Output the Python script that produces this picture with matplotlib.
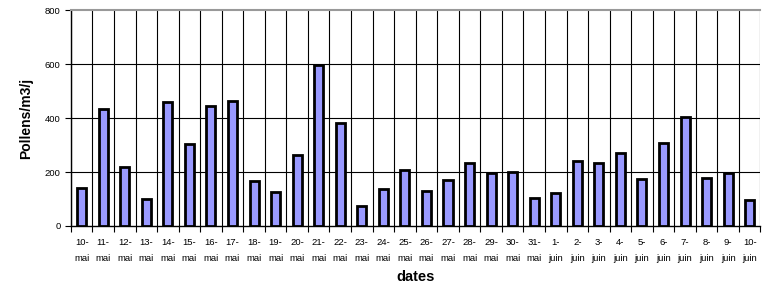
import matplotlib
matplotlib.use('Agg')
import matplotlib.pyplot as plt
import numpy as np

plt.rcParams['font.family'] = ['Liberation Sans', 'DejaVu Sans']

dates = ['10-\nmai', '11-\nmai', '12-\nmai', '13-\nmai', '14-\nmai', '15-\nmai', '16-\nmai',
         '17-\nmai', '18-\nmai', '19-\nmai', '20-\nmai', '21-\nmai', '22-\nmai', '23-\nmai',
         '24-\nmai', '25-\nmai', '26-\nmai', '27-\nmai', '28-\nmai', '29-\nmai', '30-\nmai',
         '31-\nmai', '1-\njuin', '2-\njuin', '3-\njuin', '4-\njuin', '5-\njuin', '6-\njuin',
         '7-\njuin', '8-\njuin', '9-\njuin', '10-\njuin']
pollens = [140, 435, 220, 100, 460, 305, 445, 465, 165, 125, 262, 598, 380, 75, 137, 207,
           128, 170, 235, 198, 200, 103, 122, 240, 232, 272, 173, 308, 405, 177, 198, 96]

fig = plt.figure(figsize=(7.62, 2.89), dpi=100)
ax = fig.add_axes([0.093, 0.218, 0.905, 0.747])

x = np.arange(len(dates))
ax.bar(x, pollens, width=0.42, color='#9999FF', edgecolor='black', linewidth=2, zorder=3)

ax.set_xlim(-0.5, len(dates) - 0.5)
ax.set_ylim(0, 800)
ax.set_yticks([0, 200, 400, 600, 800])

# grid lines between categories
for b in np.arange(-0.5, len(dates) + 0.5, 1):
    ax.axvline(b, color='black', linewidth=0.8, zorder=1)
for yv in [200, 400, 600]:
    ax.axhline(yv, color='black', linewidth=0.8, zorder=1)

ax.set_xticks(np.arange(-0.5, len(dates), 1), minor=False)
ax.set_xticklabels([])
ax.set_xticks(x, minor=True)
ax.set_xticklabels(dates, minor=True, fontsize=6.8, linespacing=1.95)
ax.tick_params(axis='x', which='major', length=4, width=0.8, direction='out')
ax.tick_params(axis='x', which='minor', length=0, pad=9)
ax.tick_params(axis='y', length=4, width=0.8, labelsize=6.8)

ax.spines['top'].set_color('#999999')
ax.spines['top'].set_linewidth(1.5)
ax.spines['right'].set_visible(False)
ax.spines['left'].set_linewidth(1)
ax.spines['bottom'].set_linewidth(1)

ax.set_ylabel('Pollens/m3/j', fontsize=10, fontweight='bold', labelpad=8)
ax.set_xlabel('dates', fontsize=10.5, fontweight='bold', labelpad=5)

fig.savefig('out.png', dpi=100)
